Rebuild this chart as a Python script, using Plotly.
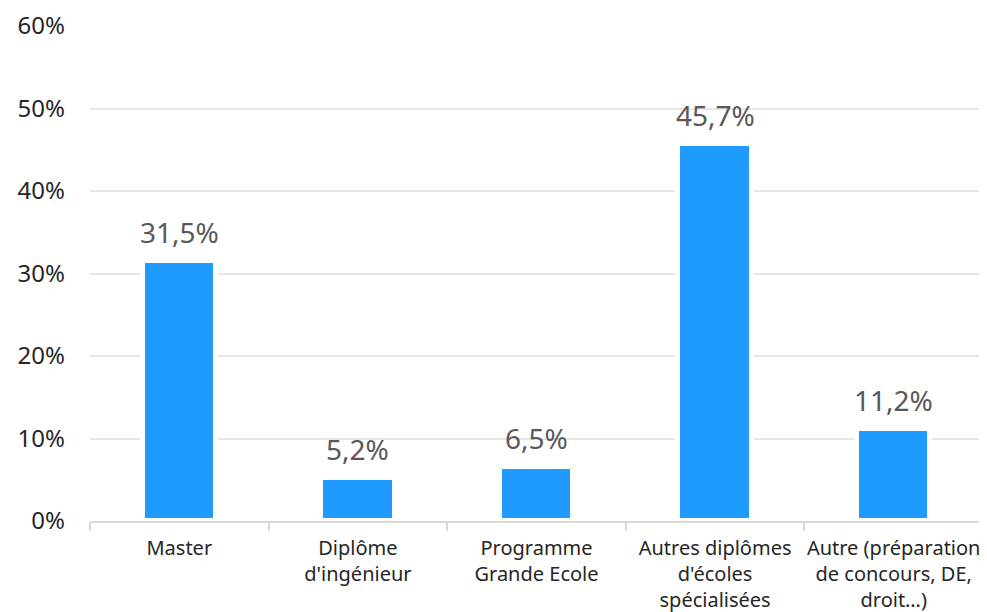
import plotly.graph_objects as go

categories = ["Master", "Diplôme<br>d'ingénieur", "Programme<br>Grande Ecole",
              "Autres diplômes<br>d'écoles<br>spécialisées",
              "Autre (préparation<br>de concours, DE,<br>droit…)"]
values = [31.5, 5.2, 6.5, 45.7, 11.2]
y_ticks = [0, 10, 20, 30, 40, 50, 60]
y_tick_labels = [f"{t}%" for t in y_ticks]

FONT = "Noto Sans"

fig = go.Figure()
fig.add_trace(go.Bar(
    x=categories, y=values, width=0.41,
    marker=dict(color="#1F9BFF", line=dict(color="white", width=5)),
    hoverinfo="skip",
))

for c, v in zip(categories, values):
    fig.add_annotation(
        x=c, y=v, xref="x", yref="y",
        text=f"{v:.1f}".replace(".", ",") + "%",
        showarrow=False, yanchor="bottom", yshift=8,
        font=dict(family=FONT, size=28, color="#595959"),
    )

# page body has an 8px default margin; compensate so the plot area lands where the reference has it
fig.update_layout(
    width=979, height=604,
    margin=dict(l=82, r=4, t=18, b=91, autoexpand=False),
    paper_bgcolor="white", plot_bgcolor="white",
    showlegend=False,
    font=dict(family=FONT),
    bargap=0,
)
fig.update_xaxes(
    showline=True, linecolor="#d9d9d9", linewidth=1.5,
    ticks="outside", tickson="boundaries", ticklen=8, tickcolor="#d9d9d9", tickwidth=1.5,
    tickfont=dict(family=FONT, size=20, color="#262626"),
    tickangle=0, ticklabelstandoff=8,
    showgrid=False, automargin=False,
)
fig.update_yaxes(
    range=[0, 60], tickvals=y_ticks, ticktext=y_tick_labels,
    showgrid=True, gridcolor="#e6e6e6", gridwidth=1.5,
    zeroline=False, showline=False,
    tickfont=dict(family=FONT, size=24, color="#262626"),
    ticks="", ticklabelstandoff=24, automargin=False,
)

fig.write_html("out.html")
